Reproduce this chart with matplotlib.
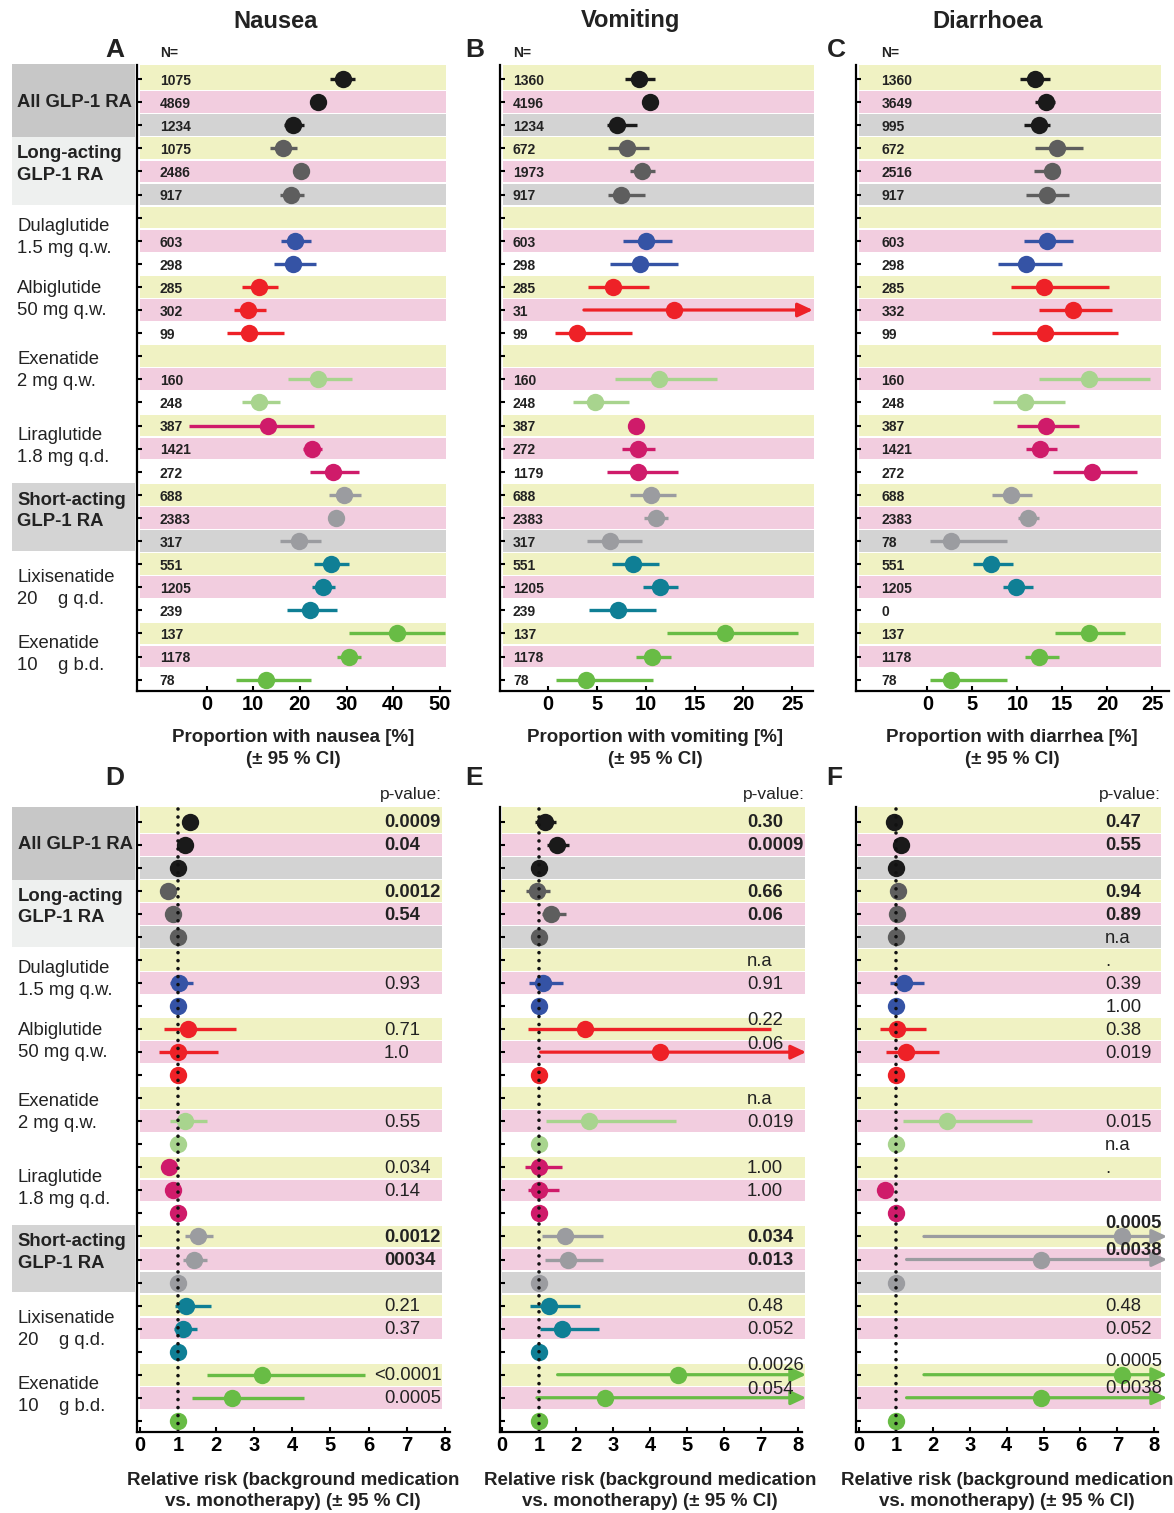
import numpy as np
import matplotlib
matplotlib.use('Agg')
import matplotlib.pyplot as plt
from matplotlib.patches import Rectangle

plt.rcParams['font.family'] = ['Liberation Sans', 'DejaVu Sans']
plt.rcParams['axes.linewidth'] = 1.6

inf = np.inf

# ---------------- data ----------------
groups = ["All GLP-1 RA", "Long-acting\nGLP-1 RA", "Dulaglutide\n1.5 mg q.w.",
          "Albiglutide\n50 mg q.w.", "Exenatide\n2 mg q.w.", "Liraglutide\n1.8 mg q.d.",
          "Short-acting\nGLP-1 RA", "Lixisenatide\n20    g q.d.", "Exenatide\n10    g b.d."]
group_bold = [True, True, False, False, False, False, True, False, False]
group_colors = ['#1a1a1a', '#5e5e5e', '#3553a5', '#ee2127', '#a8d48e',
                '#cf1b6a', '#9b9ca0', '#0f7f95', '#68bc45']

titles = ["Nausea", "Vomiting", "Diarrhoea"]

n_nausea = ['1075', '4869', '1234', '1075', '2486', '917', '', '603', '298', '285', '302', '99', '',
            '160', '248', '387', '1421', '272', '688', '2383', '317', '551', '1205', '239', '137', '1178', '78']
n_vomit = ['1360', '4196', '1234', '672', '1973', '917', '', '603', '298', '285', '31', '99', '',
           '160', '248', '387', '272', '1179', '688', '2383', '317', '551', '1205', '239', '137', '1178', '78']
n_diarr = ['1360', '3649', '995', '672', '2516', '917', '', '603', '298', '285', '332', '99', '',
           '160', '248', '387', '1421', '272', '688', '2383', '78', '551', '1205', '0', '137', '1178', '78']

nausea_pt = [29.2, 23.8, 18.5, 16.3, 20.2, 18.0, None, 18.9, 18.5, 11.2, 8.8, 9.0, None,
             23.8, 11.3, 13.1, 22.7, 27.2, 29.5, 27.8, 19.8, 26.6, 25.0, 22.2, 40.8, 30.5, 12.7]
nausea_lo = [26.4, 23.0, 16.7, 13.7, 19.2, 15.7, None, 15.9, 14.4, 7.7, 5.8, 4.3, None,
             17.4, 7.7, -3.7, 20.7, 22.1, 26.2, 26.8, 15.7, 23.0, 22.6, 17.2, 30.5, 28.0, 6.3]
nausea_hi = [31.8, 24.6, 20.8, 19.3, 21.2, 20.8, None, 22.3, 23.4, 15.3, 12.7, 16.5, None,
             31.2, 15.8, 23.0, 24.8, 32.7, 33.0, 28.8, 24.6, 30.5, 27.5, 27.9, 51.2, 33.2, 22.3]

vomit_pt = [9.33, 10.42, 7.08, 8.04, 9.6, 7.43, None, 10.0, 9.4, 6.68, 12.9, 3.0, None,
            11.34, 4.8, 9.0, 9.26, 9.26, 10.56, 11.03, 6.33, 8.68, 11.44, 7.15, 18.15, 10.69, 3.85]
vomit_lo = [7.87, 9.6, 6.06, 6.16, 8.35, 6.16, None, 7.73, 6.33, 4.15, 3.68, 0.68, None,
            6.88, 2.59, 8.2, 7.6, 6.03, 8.41, 9.84, 3.95, 6.54, 9.74, 4.22, 12.13, 9.03, 0.85]
vomit_hi = [10.93, 11.2, 9.16, 10.29, 11.0, 9.94, None, 12.67, 13.28, 10.32, inf, 8.58, None,
            17.34, 8.31, 9.8, 11.0, 13.28, 13.08, 12.26, 9.6, 11.38, 13.28, 11.1, 25.6, 12.57, 10.76]

diarr_pt = [11.9, 13.2, 12.4, 14.4, 13.8, 13.3, None, 13.3, 11.0, 12.9, 16.2, 13.1, None,
            18.0, 10.8, 13.2, 12.5, 18.3, 9.3, 11.2, 2.6, 7.1, 9.9, None, 18.0, 12.4, 2.6]
diarr_lo = [10.3, 11.9, 10.7, 12.0, 11.8, 11.0, None, 10.7, 7.8, 9.3, 12.4, 7.2, None,
            12.4, 7.3, 10.0, 11.0, 13.9, 7.2, 10.1, 0.3, 5.1, 8.4, None, 14.2, 10.8, 0.3]
diarr_hi = [13.6, 14.2, 13.6, 17.3, 14.7, 15.7, None, 16.2, 15.0, 20.2, 20.5, 21.2, None,
            24.7, 15.3, 16.8, 14.4, 23.3, 11.6, 12.4, 8.9, 9.5, 11.7, None, 22.0, 14.6, 8.9]

rr_nausea_pt = [1.32, 1.18, 1.0, 0.73, 0.86, 1.0, None, 1.03, 1.0, 1.27, 0.99, 1.0, None,
                1.19, 1.0, 0.76, 0.86, 1.0, 1.52, 1.42, 1.0, 1.22, 1.14, 1.0, 3.21, 2.41, 1.0]
rr_nausea_lo = [1.22, 1.10, None, 0.66, 0.80, None, None, 0.80, None, 0.63, 0.51, None, None,
                0.79, None, 0.70, 0.80, None, 1.19, 1.14, None, 0.92, 0.90, None, 1.77, 1.36, None]
rr_nausea_hi = [1.42, 1.26, None, 0.80, 0.93, None, None, 1.38, None, 2.52, 2.05, None, None,
                1.75, None, 0.83, 0.93, None, 1.92, 1.77, None, 1.86, 1.49, None, 5.90, 4.30, None]

rr_vomit_pt = [1.17, 1.49, 1.0, 0.93, 1.32, 1.0, None, 1.10, 1.0, 2.23, 4.27, 1.0, None,
               2.34, 1.0, 1.0, 1.0, 1.0, 1.71, 1.77, 1.0, 1.27, 1.63, 1.0, 4.77, 2.79, 1.0]
rr_vomit_lo = [0.90, 1.22, None, 0.64, 1.09, None, None, 0.72, None, 0.70, 1.04, None, None,
               1.18, None, 0.62, 0.70, None, 1.08, 1.17, None, 0.75, 1.01, None, 1.50, 0.94, None]
rr_vomit_hi = [1.47, 1.82, None, 1.29, 1.72, None, None, 1.64, None, 7.29, inf, None, None,
               4.71, None, 1.63, 1.53, None, 2.72, 2.72, None, 2.11, 2.61, None, inf, inf, None]

rr_diarr_pt = [0.94, 1.13, 1.0, 1.05, 1.03, 1.0, None, 1.23, 1.0, 1.02, 1.27, 1.0, None,
               2.38, 1.0, None, 0.71, 1.0, 7.14, 4.93, 1.0, None, None, None, 7.14, 4.93, 1.0]
rr_diarr_lo = [0.88, 1.07, None, 0.95, 0.97, None, None, 0.84, None, 0.57, 0.73, None, None,
               1.18, None, None, 0.66, None, 1.76, 1.29, None, None, None, None, 1.76, 1.29, None]
rr_diarr_hi = [1.00, 1.19, None, 1.15, 1.09, None, None, 1.77, None, 1.81, 2.18, None, None,
               4.70, None, None, 0.76, None, inf, inf, None, None, None, None, inf, inf, None]

p_nausea = ['0.0009', '0.04', '', '0.0012', '0.54', '', '', '0.93', '', '0.71', '1.0', '', '',
            '0.55', '', '0.034', '0.14', '', '0.0012', '00034', '', '0.21', '0.37', '', '<0.0001', '0.0005', '']
p_vomit = ['0.30', '0.0009', '', '0.66', '0.06', '', 'n.a', '0.91', '', '0.22', '0.06', '', 'n.a',
           '0.019', '', '1.00', '1.00', '', '0.034', '0.013', '', '0.48', '0.052', '', '0.0026', '0.054', '']
p_diarr = ['0.47', '0.55', '', '0.94', '0.89', 'n.a', '.', '0.39', '1.00', '0.38', '0.019', '', '',
           '0.015', 'n.a', '.', '', '', '0.0005', '0.0038', '', '0.48', '0.052', '', '0.0005', '0.0038', '']

xlabels_top = ["Proportion with nausea [%]\n(\u00b1 95 % CI)",
               "Proportion with vomiting [%]\n(\u00b1 95 % CI)",
               "Proportion with diarrhea [%]\n(\u00b1 95 % CI)"]
xlabel_bottom = "Relative risk (background medication\nvs. monotherapy) (\u00b1 95 % CI)"
xticks_top = [[0, 10, 20, 30, 40, 50], [0, 5, 10, 15, 20, 25], [0, 5, 10, 15, 20, 25]]
xticks_bottom = [0, 1, 2, 3, 4, 5, 6, 7, 8]

# ---------------- layout / style ----------------
W, H = 1174, 1513
YEL, PINK, GRAYB = '#f0f2c3', '#f2cddf', '#d3d3d3'
NROW = 27


def fx(px):
    return px / W


def fy(py):
    return 1 - py / H


fig = plt.figure(figsize=(W / 100, H / 100), dpi=100)

top_boxes = [(-0.64, 2.52, '#c7c7c7'), (2.52, 5.45, '#eef0ef'), (17.5, 20.43, '#d4d4d4')]
label_rows = [1.0, 3.7, 6.85, 9.55, 12.6, 15.9, 18.7, 22.05, 24.9]


def setup_axes(ax, xlim, ylim, band_end, xticks, with_labels):
    ax.set_xlim(*xlim)
    ax.set_ylim(*ylim)
    for s in ['top', 'right']:
        ax.spines[s].set_visible(False)
    ax.set_yticks(range(NROW))
    ax.set_yticklabels([])
    ax.tick_params(axis='y', direction='in', length=3.5, width=1.5)
    ax.set_xticks(xticks)
    ax.set_xticklabels([str(t) for t in xticks], fontsize=14.5, fontweight='bold')
    ax.tick_params(axis='x', direction='in', length=3.5, width=1.5, pad=3)
    x0 = xlim[0] + 0.008 * (xlim[1] - xlim[0])
    for r in range(NROW):
        g, k = r // 3, r % 3
        if k == 0:
            c = YEL
        elif k == 1:
            c = PINK
        else:
            c = GRAYB if g in (0, 1, 6) else None
        if c is None:
            continue
        top = ylim[1] if r == 0 else r - 0.47
        ax.add_patch(Rectangle((x0, top), band_end - x0, r + 0.47 - top, fc=c, ec='none',
                               zorder=0, clip_on=False))
    if not with_labels:
        return
    tr = ax.get_yaxis_transform()
    for (y0, y1, c) in top_boxes:
        ax.add_patch(Rectangle((-0.40, y0), 0.394, y1 - y0, transform=tr, fc=c, ec='none',
                               clip_on=False, zorder=0))
    for g, lab in enumerate(groups):
        ax.text(-0.383, label_rows[g], lab, transform=tr, ha='left', va='center',
                fontsize=13.3, fontweight='bold' if group_bold[g] else 'normal',
                linespacing=1.38, color='#222222')


def draw_points(ax, pt, lo, hi, arrow_tip):
    for r in range(NROW):
        g = r // 3
        c = group_colors[g]
        if lo[r] is not None:
            if np.isinf(hi[r]):
                ax.annotate('', xy=(arrow_tip, r), xytext=(lo[r], r),
                            arrowprops=dict(arrowstyle='-|>,head_length=0.45,head_width=0.21',
                                            color=c, lw=2.3, mutation_scale=20,
                                            shrinkA=0, shrinkB=0, clip_on=False),
                            annotation_clip=False, zorder=2)
            else:
                ax.plot([lo[r], hi[r]], [r, r], color=c, lw=2.4, solid_capstyle='butt',
                        zorder=2, clip_on=False)
        if pt[r] is not None:
            ax.plot([pt[r]], [r], 'o', color=c, ms=12.5, mec='none', zorder=3, clip_on=False)


# ---------- top row ----------
top_specs = [
    (137, 449.7, (-14.9, 52.1), 51.4, nausea_pt, nausea_lo, nausea_hi, n_nausea, -10.0, None),
    (500, 812.7, (-4.9, 27.08), 27.2, vomit_pt, vomit_lo, vomit_hi, n_vomit, -3.58, 27.1),
    (856, 1168.7, (-7.92, 26.8), 25.9, diarr_pt, diarr_lo, diarr_hi, n_diarr, -5.1, None),
]
top_ylim = (26.48, -0.606)
for i, (l, rgt, xlim, bend, pt, lo, hi, nn, nx, tip) in enumerate(top_specs):
    ax = fig.add_axes([fx(l), fy(690.7), fx(rgt - l), (690.7 - 65) / H])
    setup_axes(ax, xlim, top_ylim, bend, xticks_top[i], i == 0)
    draw_points(ax, pt, lo, hi, tip)
    for r, s in enumerate(nn):
        if s:
            ax.text(nx, r + 0.08, s, ha='left', va='center', fontsize=10, fontweight='bold',
                    color='#222222')
    ax.text(nx, -1.14, 'N=', ha='left', va='center', fontsize=10, fontweight='bold',
            color='#222222', clip_on=False)

# ---------- bottom row ----------
bottom_specs = [
    (137.3, 449.7, (-0.07, 8.13), 7.92, rr_nausea_pt, rr_nausea_lo, rr_nausea_hi, p_nausea, 6.40, None),
    (500, 801.7, (-0.06, 8.11), 8.2, rr_vomit_pt, rr_vomit_lo, rr_vomit_hi, p_vomit, 6.63, 8.23),
    (856, 1158.3, (-0.08, 8.11), 8.19, rr_diarr_pt, rr_diarr_lo, rr_diarr_hi, p_diarr, 6.67, 8.35),
]
p_offsets = [{}, {9: -0.42, 10: -0.38, 24: -0.43, 25: -0.42},
             {18: -0.62, 19: -0.46, 24: -0.62, 25: -0.46}]
bot_ylim = (26.5, -0.64)
for i, (l, rgt, xlim, bend, pt, lo, hi, pv, px_, tip) in enumerate(bottom_specs):
    ax = fig.add_axes([fx(l), fy(1432.3), fx(rgt - l), (1432.3 - 807) / H])
    setup_axes(ax, xlim, bot_ylim, bend, xticks_bottom, i == 0)
    draw_points(ax, pt, lo, hi, tip if tip else 8.3)
    ax.plot([1, 1], [bot_ylim[1] + 0.1, bot_ylim[0]], color='#111111', lw=2.6,
            linestyle=(0, (0.01, 2.2)), dash_capstyle='round', zorder=4)
    for r, s in enumerate(pv):
        if not s:
            continue
        bold = (r // 3) in (0, 1, 6) and s not in ('n.a', '.')
        y = r + 0.05 + p_offsets[i].get(r, 0)
        if s.startswith('<'):
            ax.text(bend, y, s, ha='right', va='center', fontsize=13.3, color='#222222',
                    fontweight='bold' if bold else 'normal', clip_on=False)
        else:
            ax.text(px_, y, s, ha='left', va='center', fontsize=13.3, color='#222222',
                    fontweight='bold' if bold else 'normal', clip_on=False)
    ax.text(bend, -1.2, 'p-value:', ha='right', va='center',
            fontsize=12.5, color='#222222', clip_on=False)

# ---------- figure-level text ----------
for t, x in zip(titles, [276, 631, 988]):
    fig.text(fx(x), fy(21), t, ha='center', va='center', fontsize=17, fontweight='bold',
             color='#222222')
for t, x, y in zip('ABCDEF', [115, 475, 836, 115, 474, 834], [50, 50, 50, 778, 778, 778]):
    fig.text(fx(x), fy(y), t, ha='center', va='center', fontsize=19, fontweight='bold',
             color='#222222')
for t, x in zip(xlabels_top, [293, 655, 1012]):
    fig.text(fx(x), fy(748.5), t, ha='center', va='center', fontsize=13.5, fontweight='bold',
             linespacing=1.38, color='#222222')
for x in [293, 650, 1007]:
    fig.text(fx(x), fy(1491), xlabel_bottom, ha='center', va='center', fontsize=13.5,
             fontweight='bold', linespacing=1.36, color='#222222')

fig.savefig('out.png', dpi=100)
